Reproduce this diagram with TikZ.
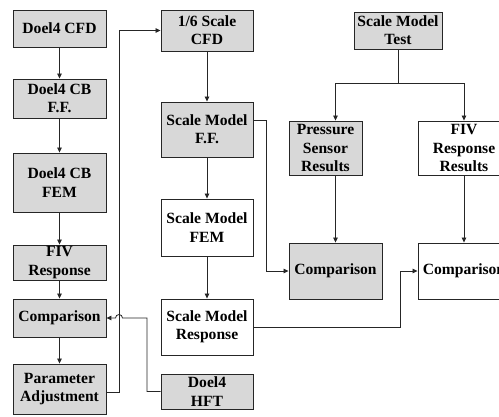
\documentclass[tikz,border=0pt]{standalone}
\usepackage{fontspec}
\setmainfont{Liberation Serif}
\usetikzlibrary{arrows.meta}
\definecolor{boxgray}{RGB}{216,216,216}
\begin{document}
\begin{tikzpicture}[x=1pt,y=1pt,
 box/.style={draw=black!85, line width=0.9pt, inner sep=0pt, align=center, font=\fontsize{15.6}{18.3}\selectfont\bfseries},
 gbox/.style={box, fill=boxgray},
 wbox/.style={box, fill=white},
 conn/.style={draw=black!85, line width=0.8pt},
 arr/.style={conn, -{Triangle[length=5pt,width=4.5pt]}}]
\useasboundingbox (0,0) rectangle (499,-416);
\clip (0,0) rectangle (499,-416);
\fill[white] (0,0) rectangle (499,-416);
% left column
\node[gbox, minimum width=93, minimum height=37] (cfd) at (59.5,-28.5) {Doel4 CFD};
\node[gbox, minimum width=93, minimum height=39] (cbff) at (59.5,-98.5) {Doel4 CB\\F.F.};
\node[gbox, minimum width=93, minimum height=59] (cbfem) at (59.5,-182.5) {Doel4 CB\\FEM};
\node[gbox, minimum width=93, minimum height=35] (fiv) at (59.5,-262.5) {FIV\\Response};
\node[gbox, minimum width=93, minimum height=38] (comp) at (59.5,-318) {Comparison};
\node[gbox, minimum width=93, minimum height=50] (pa) at (59.5,-389) {Parameter\\Adjustment};
% middle column
\node[gbox, minimum width=92, minimum height=41] (cfd16) at (207,-30.5) {1/6 Scale\\CFD};
\node[gbox, minimum width=92, minimum height=55] (smff) at (207,-129.5) {Scale Model\\F.F.};
\node[wbox, minimum width=92, minimum height=57] (smfem) at (207,-227.5) {Scale Model\\FEM};
\node[wbox, minimum width=92, minimum height=56] (smr) at (207,-327) {Scale Model\\Response};
\node[gbox, minimum width=92, minimum height=35] (hft) at (207,-391.5) {Doel4\\HFT};
% right side
\node[gbox, minimum width=88, minimum height=37] (smt) at (398,-30.5) {Scale Model\\Test};
\node[gbox, minimum width=73, minimum height=54] (ps) at (325.5,-148) {Pressure\\Sensor\\Results};
\node[wbox, minimum width=92, minimum height=54] (fivr) at (464,-148) {FIV\\Response\\Results};
\node[gbox, minimum width=93, minimum height=56] (cmp1) at (335.5,-271) {Comparison};
\node[wbox, minimum width=92, minimum height=56] (cmp2) at (464,-271) {Comparison};
% left arrows
\draw[arr] (cfd) -- (cbff);
\draw[arr] (cbff) -- (cbfem);
\draw[arr] (cbfem) -- (fiv);
\draw[arr] (fiv) -- (comp);
\draw[arr] (comp) -- (pa);
% middle arrows
\draw[arr] (cfd16) -- (smff);
\draw[arr] (smff) -- (smfem);
\draw[arr] (smfem) -- (smr);
% right
\coordinate (br) at (398,-83.5);
\draw[conn] (smt.south) -- (br);
\draw[arr] (br) -| (cmp1.north |- ps.north);
\draw[arr] (br) -| (fivr.north);
\draw[arr] (cmp1.north |- ps.south) -- (cmp1.north);
\draw[arr] (fivr) -- (cmp2);
\draw[arr] (smff.east |- 0,-120) -- (266,-120) |- (cmp1.west);
\draw[arr] (smr.east) -- (400,-327) |- (cmp2.west);
\draw[arr] (pa.east |- 0,-392) -- (119,-392) |- (cfd16.west);
\draw[arr] (hft.west) -- (147,-391.5) -- (147,-318) -- (122.5,-318) arc (0:180:3.5) -- (comp.east);
\end{tikzpicture}
\end{document}
